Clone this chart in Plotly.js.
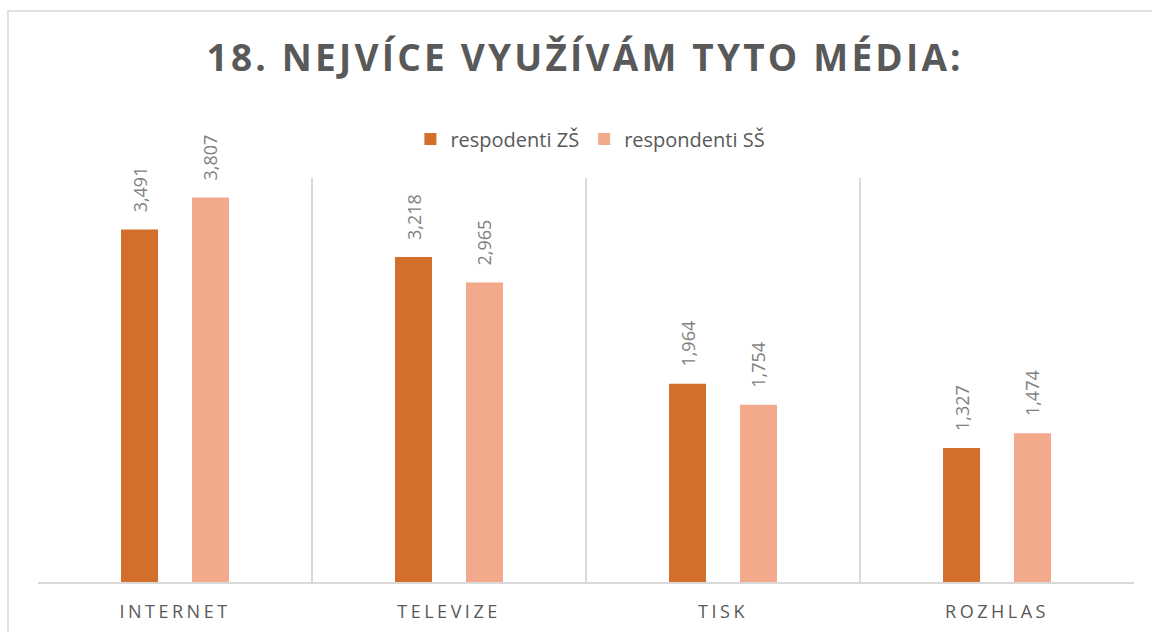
<!DOCTYPE html>
<html>
<head>
<meta charset="utf-8">
<script src="https://cdn.plot.ly/plotly-3.0.1.min.js"></script>
<style>
  html, body { margin: 0; padding: 0; background: #fff; }
  #chart { width: 1152px; height: 632px; }
  .gtitle { letter-spacing: 3.2px; }
  .xtick text { letter-spacing: 3.5px; }
</style>
</head>
<body>
<div id="chart"></div>
<script>
const categories = ["INTERNET", "TELEVIZE", "TISK", "ROZHLAS"];
const seriesNames = ["respodenti ZŠ", "respondenti SŠ"];
const valuesZS = [3.491, 3.218, 1.964, 1.327];
const valuesSS = [3.807, 2.965, 1.754, 1.474];
const colors = ["#D36F2B", "#F3A98B"];
const titleText = "18. NEJVÍCE VYUŽÍVÁM TYTO MÉDIA:";

function fmt(v) { return "\u00a0\u00a0\u00a0" + v.toFixed(3).replace(".", ","); }

function barTrace(name, values, color) {
  return {
    type: "bar",
    name: name,
    x: categories,
    y: values,
    text: values.map(fmt),
    textposition: "outside",
    textangle: -90,
    constraintext: "none",
    cliponaxis: false,
    textfont: { family: "Open Sans", size: 18, color: "#7F7F7F" },
    marker: { color: color },
    hoverinfo: "x+y"
  };
}

const data = [
  barTrace(seriesNames[0], valuesZS, colors[0]),
  barTrace(seriesNames[1], valuesSS, colors[1])
];

const layout = {
  width: 1152,
  height: 632,
  margin: { l: 38, r: 18, t: 178, b: 50 },
  paper_bgcolor: "#FFFFFF",
  plot_bgcolor: "#FFFFFF",
  barmode: "group",
  bargap: 0.482,
  bargroupgap: 0.479,
  title: {
    text: "<b>" + titleText + "</b>",
    font: { family: "Open Sans", size: 37, color: "#595959" },
    x: 0.508, xref: "container", xanchor: "center",
    y: 0.908, yref: "container", yanchor: "middle"
  },
  showlegend: true,
  legend: {
    orientation: "h",
    x: 0.504, xanchor: "center",
    y: 1.0965, yanchor: "middle",
    font: { family: "Open Sans", size: 20, color: "#595959" },
    bgcolor: "rgba(0,0,0,0)"
  },
  xaxis: {
    type: "category",
    tickson: "boundaries",
    showgrid: true,
    gridcolor: "#D9D9D9",
    gridwidth: 1.5,
    showline: true,
    linecolor: "#D9D9D9",
    linewidth: 2,
    ticks: "",
    ticklabelstandoff: 12,
    tickfont: { family: "Open Sans", size: 18, color: "#595959" },
    zeroline: false,
    fixedrange: true
  },
  yaxis: {
    range: [0, 4],
    visible: false,
    showgrid: false,
    zeroline: false,
    fixedrange: true
  },
  shapes: [{
    type: "rect", xref: "paper", yref: "paper",
    x0: -0.0274, x1: 1.03, y0: -0.2, y1: 1.4134,
    line: { color: "#D9D9D9", width: 1.5 },
    fillcolor: "rgba(0,0,0,0)",
    layer: "below"
  }]
};

Plotly.newPlot("chart", data, layout, { displayModeBar: false, staticPlot: true });
</script>
</body>
</html>
